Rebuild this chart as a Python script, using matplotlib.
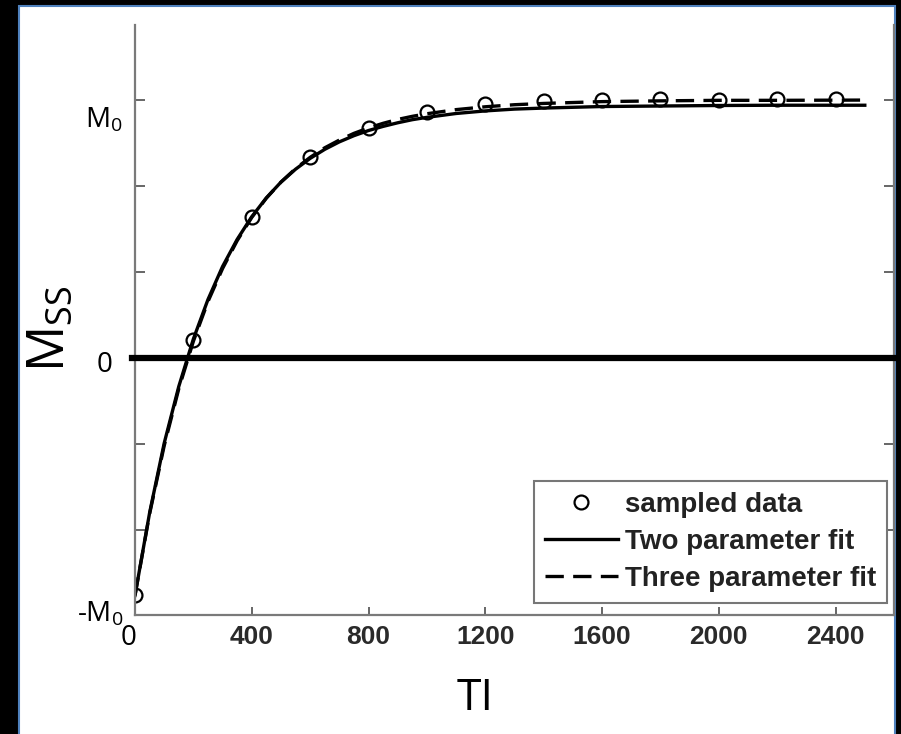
import matplotlib.pyplot as plt
from matplotlib.patches import Rectangle

# --------------------------------------------------------------
# Data (M in units of M0)

ti_sampled = [0, 200, 400, 600, 800, 1000, 1200, 1400, 1600, 1800, 2000, 2200, 2400]
m_sampled = [-0.92, 0.07, 0.547, 0.78, 0.893, 0.952, 0.985, 0.996, 1.0, 1.003, 1.0, 1.004, 1.003]

ti_fit = [0, 50, 100, 150, 200, 250, 300, 350, 400, 450, 500, 550, 600, 650, 700, 750,
          800, 850, 900, 950, 1000, 1100, 1200, 1300, 1400, 1600, 1800, 2000, 2200, 2500]
m_two_param = [-0.92, -0.60, -0.33, -0.11, 0.074, 0.227, 0.355, 0.460, 0.548, 0.621,
               0.682, 0.732, 0.774, 0.809, 0.838, 0.862, 0.882, 0.898, 0.912, 0.924,
               0.933, 0.948, 0.958, 0.965, 0.969, 0.975, 0.977, 0.979, 0.980, 0.980]
m_three_param = [-0.92, -0.604, -0.340, -0.119, 0.065, 0.219, 0.347, 0.455, 0.545, 0.620,
                 0.682, 0.7345, 0.778, 0.815, 0.845, 0.871, 0.892, 0.910, 0.925, 0.937,
                 0.947, 0.963, 0.974, 0.982, 0.987, 0.994, 0.997, 0.999, 0.999, 1.0]

x_ticks = [400, 800, 1200, 1600, 2000, 2400]
y_ticks = [-2/3, -1/3, 0, 1/3, 2/3, 1]

# --------------------------------------------------------------
# Settings

plt.rcParams['mathtext.fontset'] = 'custom'
plt.rcParams['mathtext.rm'] = 'Open Sans'
plt.rcParams['mathtext.it'] = 'Open Sans:italic'

W, H = 901, 734
def px(x, y):
    return x / W, 1 - y / H

fig = plt.figure(figsize=(W / 100, H / 100), dpi=100, facecolor='black')
fig.patches.append(Rectangle((19 / W, -0.01), (895 - 19) / W, 1 - 6 / H + 0.01,
                             transform=fig.transFigure, facecolor='white',
                             edgecolor='#4f81bd', lw=1.5, zorder=-5))

ax = fig.add_axes([135 / W, 1 - 615 / H, (894 - 135) / W, (615 - 25) / H])
ax.set_facecolor('white')
ax.set_zorder(2)

# --------------------------------------------------------------
# Plot

ax.plot(ti_fit, m_two_param, color='black', lw=2.4, label='Two parameter fit')
ax.plot(ti_fit, m_three_param, color='black', lw=2.4, dashes=(5.5, 2.8),
        label='Three parameter fit')
ax.plot(ti_sampled, m_sampled, linestyle='none', marker='o', markersize=10,
        markerfacecolor='none', markeredgecolor='black', markeredgewidth=1.6,
        label='sampled data')

ax.axhline(0, xmin=-0.004, xmax=1.0, color='black', lw=4.5, clip_on=False, zorder=5)

ax.set_xlim(0, 2600)
ax.set_ylim(-0.996, 1.291)
ax.set_xticks(x_ticks)
ax.set_xticklabels([str(t) for t in x_ticks], fontfamily='Liberation Sans',
                   fontweight='bold', fontsize=19, color='#2a2a2a')
ax.set_yticks(y_ticks)
ax.set_yticklabels([])

for side in ['left', 'bottom', 'right']:
    ax.spines[side].set_color('#7a7a7a')
    ax.spines[side].set_linewidth(1.6)
ax.spines['top'].set_visible(False)
ax.tick_params(axis='x', direction='in', length=6, width=1.4, color='#666666', pad=7.5)
ax.tick_params(axis='y', direction='in', length=7, width=1.4, color='#666666',
               right=True)

handles, labels = ax.get_legend_handles_labels()
order = [2, 0, 1]
leg = ax.legend([handles[i] for i in order], [labels[i] for i in order],
                loc='lower right', bbox_to_anchor=((887 - 135) / 759, (615 - 603) / 590),
                prop={'family': 'Liberation Sans', 'weight': 'bold', 'size': 20},
                numpoints=1, handlelength=2.63, handletextpad=0.25, labelspacing=0.4,
                borderpad=0.4, borderaxespad=0, fancybox=False, framealpha=1)
leg.get_frame().set_edgecolor('#777777')
leg.get_frame().set_linewidth(1.5)
for t in leg.get_texts():
    t.set_color('#222222')

# --------------------------------------------------------------
# Annotation labels

fig.text(*px(122, 128), r'$\mathrm{M}_0$', fontsize=20, ha='right', va='baseline')
fig.text(*px(112, 372), '0', family='Open Sans', fontsize=20, ha='right', va='baseline')
fig.text(*px(123, 622), r'-$\mathrm{M}_0$', fontsize=20, ha='right', va='baseline',
         family='Open Sans')
fig.text(*px(129, 645), '0', family='Open Sans', fontsize=20, ha='center', va='baseline')

fig.text(*px(50, 329), r'$\mathrm{M}_{\mathrm{SS}}$', fontsize=37, rotation=90,
         ha='center', va='center')
fig.text(*px(475, 699), 'TI', family='Open Sans', fontsize=32, ha='center', va='center')

fig.savefig('out.png', dpi=100, facecolor=fig.get_facecolor())
